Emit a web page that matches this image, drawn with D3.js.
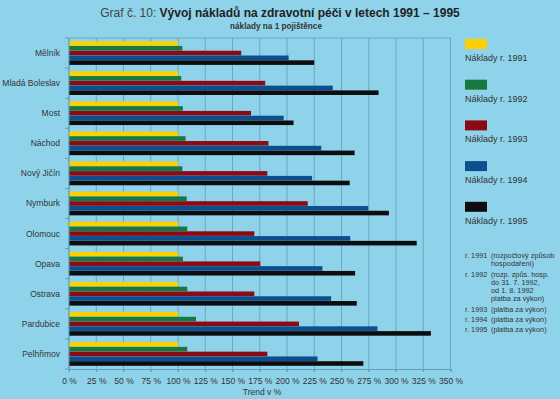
<!DOCTYPE html>
<html>
<head>
<meta charset="utf-8">
<script src="https://cdn.jsdelivr.net/npm/d3@7"></script>
<style>
  body { margin: 0; background: #8fd3ea; }
  svg { display: block; font-family: "Liberation Sans", Arial, sans-serif; }
</style>
</head>
<body>
<div id="chart"></div>
<script>
// districts, top to bottom
var districts = ['Mělník', 'Mladá Boleslav', 'Most', 'Náchod', 'Nový Jičín', 'Nymburk',
                 'Olomouc', 'Opava', 'Ostrava', 'Pardubice', 'Pelhřimov'];
var years = ['1991', '1992', '1993', '1994', '1995'];

// trend in % (1991 = 100)
var cost1991 = [100, 100, 100, 100, 100, 100, 100, 100, 100, 100, 100];
var cost1992 = [104, 103, 104.5, 107, 104, 108, 108.5, 104.5, 108.5, 116.5, 108.5];
var cost1993 = [158, 180, 167, 183, 182, 219, 170, 175.5, 170, 211, 182];
var cost1994 = [201.5, 242, 197, 231.5, 223, 274.5, 258, 232.5, 240.5, 283, 228];
var cost1995 = [225, 284, 206, 262, 257.5, 293.5, 319, 262.5, 264, 332, 270];

var ticks = [0, 25, 50, 75, 100, 125, 150, 175, 200, 225, 250, 275, 300, 325, 350];
var notes = [
  ['r. 1991', ['(rozpočtový způsob', 'hospodaření)']],
  ['r. 1992', ['(rozp. způs. hosp.', 'do 31. 7. 1992,', 'od 1. 8. 1992', 'platba za výkon)']],
  ['r. 1993', ['(platba za výkon)']],
  ['r. 1994', ['(platba za výkon)']],
  ['r. 1995', ['(platba za výkon)']]
];

var series = [cost1991, cost1992, cost1993, cost1994, cost1995];
var colors = ['#ffd000', '#17793f', '#8c0a14', '#0c4f8e', '#0d0d0f'];

var data = districts.map(function(d, i) {
  return { name: d, values: series.map(function(s, j) { return { year: years[j], value: s[i] }; }) };
});

var width = 560, height = 399;
var margin = {top: 38, right: 109, bottom: 30, left: 69};

var svg = d3.select('#chart').append('svg')
    .attr('width', width)
    .attr('height', height);

svg.append('rect').attr('width', width).attr('height', height).attr('fill', '#8fd3ea');

var x = d3.scaleLinear().domain([0, 350]).range([margin.left, width - margin.right - 0.5]);
var y = d3.scaleBand().domain(districts).range([margin.top, height - margin.bottom])
    .paddingInner(0.2).paddingOuter(0.1);
var yInner = d3.scaleBand().domain(years).range([0, y.bandwidth()]).padding(0.04);

// title
var title = svg.append('text')
    .attr('x', 280).attr('y', 17)
    .attr('text-anchor', 'middle')
    .style('font-size', '12px')
    .attr('fill', '#222');
title.append('tspan').attr('fill', '#444').text('Graf č. 10: ');
title.append('tspan').style('font-weight', 'bold').text('Vývoj nákladů na zdravotní péči v letech 1991 – 1995');

svg.append('text')
    .attr('x', 276).attr('y', 29)
    .attr('text-anchor', 'middle')
    .style('font-size', '8.2px')
    .style('font-weight', 'bold')
    .attr('fill', '#333')
    .text('náklady na 1 pojištěnce');

// grid lines
var gridColor = '#5f9fb8';
svg.append('g').selectAll('line')
    .data(ticks)
    .enter().append('line')
    .attr('x1', function(d) { return x(d); })
    .attr('x2', function(d) { return x(d); })
    .attr('y1', margin.top)
    .attr('y2', height - margin.bottom + 3)
    .attr('stroke', gridColor)
    .attr('stroke-width', 0.8);

svg.append('line')
    .attr('x1', margin.left).attr('x2', x(350))
    .attr('y1', margin.top).attr('y2', margin.top)
    .attr('stroke', gridColor).attr('stroke-width', 0.8);

// bars
var groups = svg.append('g').selectAll('g')
    .data(data)
    .enter().append('g')
    .attr('transform', function(d) { return 'translate(0,' + y(d.name) + ')'; });

groups.selectAll('rect')
    .data(function(d) { return d.values; })
    .enter().append('rect')
    .attr('x', x(0))
    .attr('y', function(d) { return yInner(d.year); })
    .attr('width', function(d) { return x(d.value) - x(0); })
    .attr('height', yInner.bandwidth())
    .attr('fill', function(d, i) { return colors[i]; });

// x axis
var xAxis = svg.append('g')
    .attr('transform', 'translate(0,' + (height - margin.bottom) + ')')
    .call(d3.axisBottom(x).tickValues(ticks).tickSize(3)
      .tickFormat(function(d) { return d + ' %'; }));
xAxis.select('.domain').attr('stroke', gridColor);
xAxis.selectAll('line').attr('stroke', gridColor);
xAxis.selectAll('text').attr('fill', '#333').style('font-size', '8.5px').attr('dy', '1em');

svg.append('text')
    .attr('x', 262).attr('y', 395)
    .attr('text-anchor', 'middle')
    .style('font-size', '8.5px')
    .attr('fill', '#333')
    .text('Trend v %');

// y axis
var step = y.step();
var bounds = districts.map(function(d) { return y(d) - step * 0.1; });
bounds.push(height - margin.bottom);
svg.append('line')
    .attr('x1', margin.left).attr('x2', margin.left)
    .attr('y1', margin.top).attr('y2', height - margin.bottom)
    .attr('stroke', gridColor);
svg.append('g').selectAll('line')
    .data(bounds)
    .enter().append('line')
    .attr('x1', margin.left - 4).attr('x2', margin.left)
    .attr('y1', function(d) { return d; }).attr('y2', function(d) { return d; })
    .attr('stroke', gridColor);

svg.append('g').selectAll('text')
    .data(districts)
    .enter().append('text')
    .attr('x', 60)
    .attr('y', function(d) { return y(d) + y.bandwidth() / 2; })
    .attr('dy', '0.35em')
    .attr('text-anchor', 'end')
    .style('font-size', '8.5px')
    .attr('fill', '#333')
    .text(function(d) { return d; });

// legend
var legend = svg.append('g').selectAll('g')
    .data(years)
    .enter().append('g')
    .attr('transform', function(d, i) { return 'translate(465,' + (39 + i * 40.7) + ')'; });
legend.append('rect')
    .attr('width', 22).attr('height', 10)
    .attr('fill', function(d, i) { return colors[i]; });
legend.append('text')
    .attr('x', 0).attr('y', 22)
    .style('font-size', '9px')
    .attr('fill', '#333')
    .text(function(d) { return 'Náklady r. ' + d; });

// notes
var noteY = 258;
var noteG = svg.append('g').style('font-size', '7.3px').attr('fill', '#333');
notes.forEach(function(n) {
  noteG.append('text').attr('x', 465).attr('y', noteY).text(n[0]);
  n[1].forEach(function(line, k) {
    noteG.append('text').attr('x', 491).attr('y', noteY + k * 8.2).text(line);
  });
  noteY += n[1].length * 8.2 + 2.2;
});
</script>
</body>
</html>
